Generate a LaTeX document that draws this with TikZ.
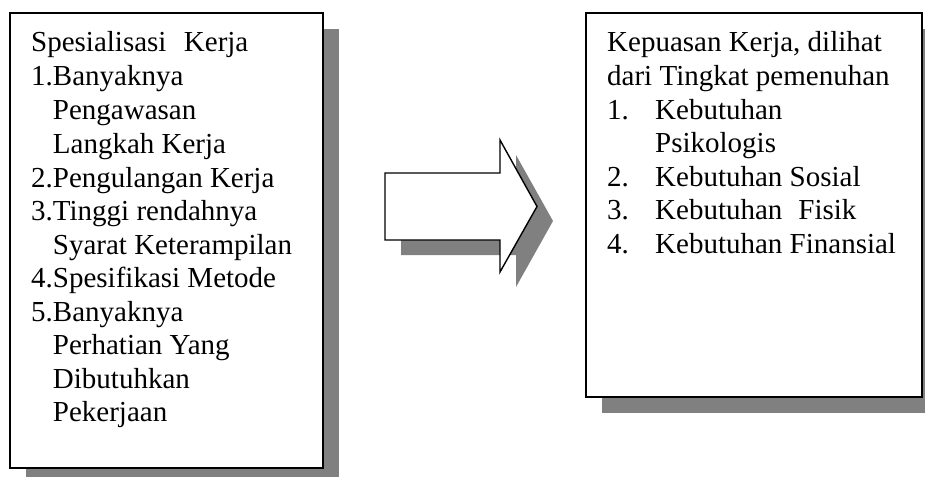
\documentclass[tikz,border=0pt]{standalone}
\usepackage{fontspec}
\setmainfont{Liberation Serif}
\begin{document}
\begin{tikzpicture}[x=1pt,y=-1pt,
  shadowfill/.style={fill=black!50,draw=none},
  panel/.style={draw=black,line width=1.6pt,fill=white,inner sep=0pt},
  txt/.style={anchor=base west,inner sep=0pt,font=\fontsize{29}{33.6}\selectfont}]
  \useasboundingbox (0,0) rectangle (925,476);
  \clip (0,0) rectangle (925,476);

  % left panel with its shadow
  \fill[shadowfill] (26,29) rectangle (339,484);
  \node[panel,minimum width=313pt,minimum height=455pt] (left) at (166.5,240.5) {};

  % right panel with its shadow
  \fill[shadowfill] (602,29) rectangle (938,413);
  \node[panel,minimum width=336pt,minimum height=384pt] (right) at (754,205) {};

  % block arrow with its shadow
  \fill[shadowfill] (401,188) -- (516,188) -- (516,155) -- (553,221) -- (516,287) -- (516,255) -- (401,255) -- cycle;
  \filldraw[fill=white,draw=black,line width=1.4pt,line join=miter]
    (385,173) -- (500,173) -- (500,140) -- (537,206.5) -- (500,272) -- (500,240) -- (385,240) -- cycle;

  % left panel text
  \node[txt] (l1)  at (31,52)    {Spesialisasi\hspace{0.35em} Kerja};
  \node[txt] (l2)  at (31,86)    {1.Banyaknya};
  \node[txt] (l3)  at (31,120)   {\phantom{1.}Pengawasan};
  \node[txt] (l4)  at (31,153.5) {\phantom{1.}Langkah Kerja};
  \node[txt] (l5)  at (31,187)   {2.Pengulangan Kerja};
  \node[txt] (l6)  at (31,220.5) {3.Tinggi rendahnya};
  \node[txt] (l7)  at (31,254)   {\phantom{1.}Syarat Keterampilan};
  \node[txt] (l8)  at (31,287.5) {4.Spesifikasi Metode};
  \node[txt] (l9)  at (31,321)   {5.Banyaknya};
  \node[txt] (l10) at (31,354.5) {\phantom{1.}Perhatian Yang};
  \node[txt] (l11) at (31,388)   {\phantom{1.}Dibutuhkan};
  \node[txt] (l12) at (31,421.5) {\phantom{1.}Pekerjaan};

  % right panel text
  \node[txt] (r1) at (607,52)    {Kepuasan Kerja, dilihat};
  \node[txt] (r2) at (607,85.5)  {dari Tingkat pemenuhan};
  \node[txt] (r3) at (607,119)   {\makebox[48pt][l]{1.}Kebutuhan};
  \node[txt] (r4) at (607,152.5) {\makebox[48pt][l]{}Psikologis};
  \node[txt] (r5) at (607,186)   {\makebox[48pt][l]{2.}Kebutuhan Sosial};
  \node[txt] (r6) at (607,219.5) {\makebox[48pt][l]{3.}Kebutuhan\hspace{0.3em} Fisik};
  \node[txt] (r7) at (607,253)   {\makebox[48pt][l]{4.}Kebutuhan Finansial};
\end{tikzpicture}
\end{document}
